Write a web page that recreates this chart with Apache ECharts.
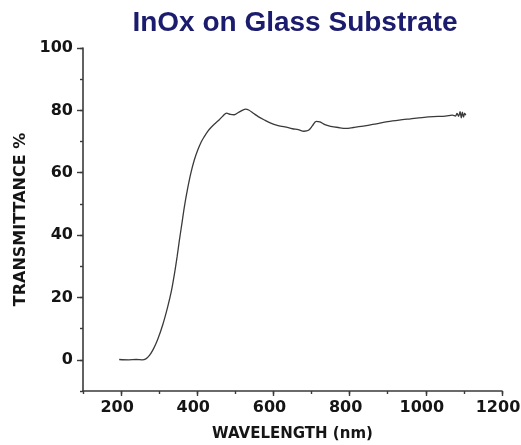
<!DOCTYPE html>
<html>
<head>
<meta charset="utf-8">
<script src="https://cdn.jsdelivr.net/npm/echarts@6/dist/echarts.min.js"></script>
<style>
  html, body { margin: 0; padding: 0; background: #fff; }
  #chart { width: 521px; height: 445px; }
</style>
</head>
<body>
<div id="chart"></div>
<script>
// Transmittance spectrum of an InOx film on a glass substrate
const wavelength = [195, 220, 240, 255, 265, 275, 285, 296, 310, 322, 332, 340, 347, 353, 360, 366, 374, 383, 392, 401, 410, 418, 427, 436, 447, 458, 468, 477, 487, 497, 508, 518, 527, 535, 548, 560, 575, 593, 610, 630, 650, 665, 680, 692, 702, 712, 722, 735, 750, 770, 790, 810, 840, 870, 900, 930, 960, 990, 1020, 1045, 1060, 1070, 1078, 1082, 1086, 1090, 1093, 1096, 1099, 1102, 1105];
const transmittance = [0.1, 0, 0.1, 0, 0.3, 1.5, 3.5, 6.5, 11.5, 16.8, 22, 27.5, 33, 38.3, 44, 49, 54.5, 59.8, 64, 67.2, 69.8, 71.5, 73.2, 74.5, 75.8, 77, 78.3, 79.1, 78.7, 78.6, 79.3, 80, 80.4, 80.1, 79, 78, 77, 75.9, 75.2, 74.7, 74.1, 73.8, 73.3, 73.6, 75, 76.5, 76.3, 75.4, 74.9, 74.5, 74.2, 74.5, 75, 75.7, 76.4, 76.9, 77.3, 77.7, 78, 78.1, 78.3, 78.5, 78.2, 79, 78.1, 79.6, 77.6, 79.4, 77.8, 79.1, 78.4];

const xTickLabels = [200, 400, 600, 800, 1000, 1200];
const yTickLabels = [0, 20, 40, 60, 80, 100];

const titleText = 'InOx on Glass Substrate';
const xName = 'WAVELENGTH (nm)';
const yName = 'TRANSMITTANCE %';

const points = wavelength.map((w, i) => [w, transmittance[i]]);

const axisColor = '#3a3a3a';
const labelFont = { fontFamily: 'DejaVu Sans', fontWeight: 'bold', fontSize: 16, color: '#151515' };

const chart = echarts.init(document.getElementById('chart'));
chart.setOption({
  animation: false,
  backgroundColor: '#ffffff',
  title: {
    text: titleText,
    left: 290,
    textAlign: 'center',
    top: 4,
    textStyle: { fontFamily: 'Liberation Sans', fontWeight: 'bold', fontSize: 28, color: '#1c1c6e' }
  },
  grid: { left: 83, right: 19, top: 48, bottom: 54, outerBoundsMode: 'none', containLabel: false },
  xAxis: [{
    type: 'value', min: 100, max: 1200, interval: 100,
    name: xName, nameLocation: 'middle', nameGap: 36,
    nameTextStyle: { fontFamily: 'DejaVu Sans', fontWeight: 'bold', fontSize: 15, color: '#151515' },
    axisLine: { show: true, onZero: false, lineStyle: { color: axisColor, width: 1.6 } },
    axisTick: { show: true, length: 5, lineStyle: { color: axisColor, width: 1.4 },
      customValues: xTickLabels },
    axisLabel: Object.assign({ margin: 9, padding: [0, 8, 0, 0], customValues: xTickLabels,
      formatter: v => String(v) }, labelFont),
    splitLine: { show: false }
  }, {
    // short minor ticks at the odd hundreds
    type: 'value', min: 100, max: 1200, interval: 100, position: 'bottom',
    axisLine: { show: false, onZero: false },
    axisTick: { show: true, length: 3, lineStyle: { color: axisColor, width: 1.4 } },
    axisLabel: { show: false },
    splitLine: { show: false }
  }],
  yAxis: [{
    type: 'value', min: -10, max: 100, interval: 10,
    name: yName, nameLocation: 'middle', nameGap: 48, nameRotate: 90,
    nameTextStyle: { fontFamily: 'DejaVu Sans', fontWeight: 'bold', fontSize: 16, color: '#151515' },
    axisLine: { show: true, onZero: false, lineStyle: { color: axisColor, width: 1.6 } },
    axisTick: { show: true, length: 6, lineStyle: { color: axisColor, width: 1.4 },
      customValues: yTickLabels },
    axisLabel: Object.assign({ margin: 10, customValues: yTickLabels, formatter: v => String(v) }, labelFont),
    splitLine: { show: false }
  }, {
    // short minor ticks every 10 %
    type: 'value', min: -10, max: 100, interval: 10, position: 'left',
    axisLine: { show: false, onZero: false },
    axisTick: { show: true, length: 3, lineStyle: { color: axisColor, width: 1.4 } },
    axisLabel: { show: false },
    splitLine: { show: false }
  }],
  series: [{
    type: 'line',
    data: points,
    showSymbol: false,
    smooth: 0.3,
    lineStyle: { color: '#3a3a3a', width: 1.3 }
  }]
});
</script>
</body>
</html>
